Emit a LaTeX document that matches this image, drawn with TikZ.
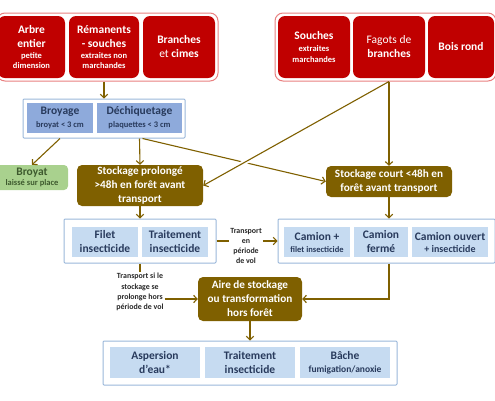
\documentclass[tikz,border=0pt]{standalone}
\usepackage{fontspec}
\setmainfont{Carlito}
\usetikzlibrary{arrows.meta,calc}
\definecolor{rouge}{HTML}{C00000}
\definecolor{rougebd}{HTML}{E98080}
\definecolor{bluebd}{HTML}{9AB7DA}
\definecolor{bluemid}{HTML}{8EAADB}
\definecolor{bluelt}{HTML}{C6DBF1}
\definecolor{bluetxt}{HTML}{283A5C}
\definecolor{brun}{HTML}{7F6000}
\definecolor{vert}{HTML}{A9D18E}
\definecolor{verttxt}{HTML}{3E5A2E}
\newcommand\smtxt{\fontsize{8.5}{10.5}\selectfont}
\newcommand\mdtxt{\fontsize{11.5}{14}\selectfont}
\tikzset{
  redgrp/.style={draw=rougebd, fill=white, line width=1pt, rounded corners=8pt},
  redbox/.style={fill=rouge, text=white, rounded corners=7pt, align=center, inner sep=1pt},
  bluegrp/.style={draw=bluebd, fill=white, line width=1pt, rounded corners=1pt},
  bbox/.style={fill=bluemid, text=bluetxt, align=center, inner sep=1pt},
  lbbox/.style={fill=bluelt, text=bluetxt, align=center, inner sep=1pt},
  brownbox/.style={fill=brun, text=white, rounded corners=5pt, align=center, inner sep=1pt, font=\bfseries\fontsize{11.2}{14}\selectfont},
  greenbox/.style={fill=vert, text=verttxt, rounded corners=4pt, align=center, inner sep=1pt},
  lbl/.style={align=center, inner sep=1pt, font=\bfseries\fontsize{7.9}{10.3}\selectfont, text=black!85},
  conn/.style={draw=brun, line width=1.1pt},
  arr/.style={conn, -{Straight Barb[length=3.5pt,width=7.5pt]}},
}
\begin{document}
\begin{tikzpicture}[x=1pt,y=-1pt, font=\bfseries\mdtxt]
\useasboundingbox (0,0) rectangle (495,400);
% top groups
\node[redgrp, minimum width=221, minimum height=68] (topL) at (107.5,47) {};
\node[redgrp, minimum width=221, minimum height=68] (topR) at (385.5,47) {};
\node[redbox, minimum width=67, minimum height=62] (arbre) at (31.5,47) {Arbre\\entier\\[-3pt]{\smtxt petite}\\[-4pt]{\smtxt dimension}};
\node[redbox, minimum width=70, minimum height=62] (reman) at (104,47) {R\'emanents\\- souches\\[-3pt]{\smtxt extraites non}\\[-4pt]{\smtxt marchandes}};
\node[redbox, minimum width=72, minimum height=62] (branch) at (179,47) {Branches\\\textmd{et} cimes};
\node[redbox, minimum width=72, minimum height=62] (souch) at (314,47) {Souches\\[-2pt]{\smtxt extraites}\\[-3pt]{\smtxt marchandes}};
\node[redbox, minimum width=72, minimum height=62] (fagot) at (389,47) {\textmd{Fagots de}\\branches};
\node[redbox, minimum width=66, minimum height=62] (bois) at (461,47) {Bois rond};
% broyage group
\node[bluegrp, minimum width=162, minimum height=39] (broyg) at (104,118.5) {};
\node[bbox, minimum width=66, minimum height=30] (broy) at (60,118) {Broyage\\[-1pt]{\smtxt broyat < 3 cm}};
\node[bbox, minimum width=85, minimum height=30] (dech) at (139.5,118) {D\'echiquetage\\[-1pt]{\smtxt plaquettes < 3 cm}};
% storage boxes
\node[greenbox, minimum width=72, minimum height=25] (broyat) at (32,177.5) {Broyat\\[-4pt]{\smtxt laiss\'e sur place}};
\node[brownbox, minimum width=126, minimum height=41] (stockp) at (140,185.5) {Stockage prolong\'e\\>48h en for\^et avant\\transport};
\node[brownbox, minimum width=126, minimum height=31] (stockc) at (389,181.5) {Stockage court <48h en\\for\^et avant transport};
% filet group
\node[bluegrp, minimum width=152, minimum height=44] (filetg) at (140,241) {};
\node[lbbox, minimum width=66, minimum height=30] (filet) at (105,242) {Filet\\insecticide};
\node[lbbox, minimum width=66, minimum height=30] (trait) at (175,242) {Traitement\\insecticide};
% camion group
\node[bluegrp, minimum width=217, minimum height=44] (camg) at (386.5,241) {};
\node[lbbox, minimum width=66, minimum height=30] (cam1) at (317,242) {Camion +\\[-2pt]{\smtxt filet insecticide}};
\node[lbbox, minimum width=54, minimum height=30] (cam2) at (381,242) {Camion\\ferm\'e};
\node[lbbox, minimum width=76, minimum height=30] (cam3) at (450,242) {Camion ouvert\\[-2pt]{\fontsize{10}{12}\selectfont + insecticide}};
% labels
\node[lbl] (lbl1) at (246,246) {Transport\\en\\p\'eriode\\de vol};
\node[lbl] (lbl2) at (140,292) {Transport si le\\stockage se\\prolonge hors\\p\'eriode de vol};
% aire
\node[brownbox, minimum width=104, minimum height=44] (aire) at (250,299) {Aire de stockage\\ou transformation\\hors for\^et};
% bottom group
\node[bluegrp, minimum width=294, minimum height=44] (botg) at (250,363) {};
\node[lbbox, minimum width=90, minimum height=31] (asp) at (155,362.5) {Aspersion\\d'eau*};
\node[lbbox, minimum width=90, minimum height=31] (trait2) at (250,362.5) {Traitement\\insecticide};
\node[lbbox, minimum width=90, minimum height=31] (bache) at (345,362.5) {B\^ache\\[-1pt]{\fontsize{9.5}{11.5}\selectfont fumigation/anoxie}};
% connectors
\draw[arr] (reman.south |- topL.south) -- (broyg.north);
\draw[arr] (broy.south |- broyg.south) -- (broyat.north);
\draw[arr] (dech.south |- broyg.south) -- (stockp.north);
\draw[arr] ([xshift=3pt]dech.south |- broyg.south) -- (stockc.west);
\draw[arr] (fagot.south |- topR.south) -- (stockc.north);
\draw[white, line width=5pt, shorten <=30pt, shorten >=20pt] (fagot.south |- topR.south) -- (stockp.east);
\draw[arr] (fagot.south |- topR.south) -- (stockp.east);
\draw[arr] (stockp.south) -- (filetg.north);
\draw[arr] (stockc.south) -- (camg.north -| stockc.south);
\draw[conn] (filetg.east) -- (filetg.east -| lbl1.west);
\draw[arr] (camg.west -| lbl1.east) -- (camg.west);
\draw[conn] (filetg.south) -- (lbl2.north);
\draw[arr] (aire.west -| lbl2.east) -- (aire.west);
\draw[arr] (stockc.south |- camg.south) |- (aire.east);
\draw[arr] (aire.south) -- (botg.north);
\end{tikzpicture}
\end{document}
